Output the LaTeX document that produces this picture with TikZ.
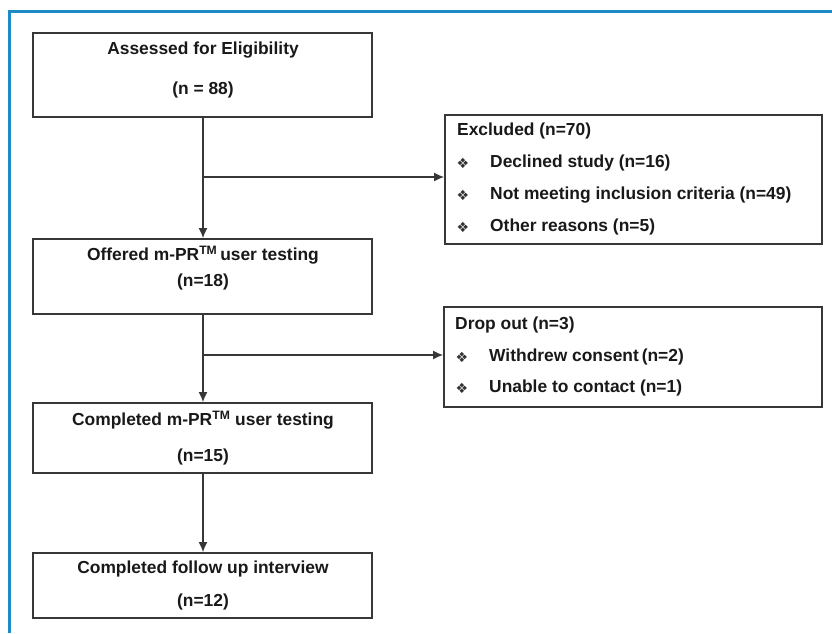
\documentclass[tikz,border=0pt]{standalone}
\usepackage{fontspec}
\setmainfont{Liberation Sans}
\newfontfamily\dejavu{DejaVu Sans}
\usetikzlibrary{arrows.meta}
\definecolor{frameblue}{RGB}{30,139,198}
\definecolor{linegray}{RGB}{55,55,55}
\begin{document}
\begin{tikzpicture}[x=1pt,y=-1pt,
  box/.style={draw=linegray,line width=1.8pt,minimum width=#1,inner sep=0pt,rectangle},
  boxtext/.style={font=\fontsize{17.4}{20}\selectfont\bfseries,inner sep=0pt,text=black!90},
  bul/.style={font=\dejavu\fontsize{14}{16}\selectfont,inner sep=0pt,text=black!80},
  conn/.style={draw=linegray,line width=1.4pt},
  arr/.style={conn,-{Latex[length=10pt,width=9pt]}}]
\useasboundingbox (0,0) rectangle (832,633);
\fill[white] (0,0) rectangle (832,633);
% frame
\draw[frameblue,line width=3pt] (9,633) -- (9,11) -- (832,11);
% main boxes
\node[box=339pt,minimum height=84pt] (b1) at (202.5,75) {};
\node[box=339pt,minimum height=75pt] (b2) at (202.5,276.5) {};
\node[box=339pt,minimum height=70pt] (b3) at (202.5,438) {};
\node[box=339pt,minimum height=65pt] (b4) at (202.5,585.5) {};
% side boxes
\node[box=377pt,minimum height=129pt] (ex) at (633.5,179.5) {};
\node[box=378pt,minimum height=100pt] (dr) at (633,357) {};
% texts main
\node[boxtext] (t1a) at (203,50) {Assessed for Eligibility};
\node[boxtext] (t1b) at (203,90) {(n = 88)};
\node[boxtext] (t2a) at (203,255) {Offered m-PR\textsuperscript{TM}\,user testing};
\node[boxtext] (t2b) at (203,282) {(n=18)};
\node[boxtext] (t3a) at (203,420) {Completed m-PR\textsuperscript{TM} user testing};
\node[boxtext] (t3b) at (203,457) {(n=15)};
\node[boxtext] (t4a) at (203,569) {Completed follow up interview};
\node[boxtext] (t4b) at (203,602) {(n=12)};
% excluded texts
\node[boxtext,anchor=west] (e0) at (457,131) {Excluded (n=70)};
\node[bul] (eb1) at (463,163) {❖};
\node[bul] (eb2) at (463,195) {❖};
\node[bul] (eb3) at (463,227) {❖};
\node[boxtext,anchor=west] (e1) at (490,163) {Declined study (n=16)};
\node[boxtext,anchor=west] (e2) at (490,195) {Not meeting inclusion criteria (n=49)};
\node[boxtext,anchor=west] (e3) at (490,227) {Other reasons (n=5)};
% drop out texts
\node[boxtext,anchor=west] (d0) at (455,325) {Drop out (n=3)};
\node[bul] (db1) at (462,357) {❖};
\node[bul] (db2) at (462,388) {❖};
\node[boxtext,anchor=west] (d1) at (489,357) {Withdrew consent\,(n=2)};
\node[boxtext,anchor=west] (d2) at (489,388) {Unable to contact (n=1)};
% connectors
\coordinate (j1) at (203,177);
\coordinate (j2) at (203,355);
\draw[arr] (b1.south -| j1) -- (b2.north -| j1);
\draw[arr] (j1) -- (ex.west |- j1);
\draw[arr] (b2.south -| j2) -- (b3.north -| j2);
\draw[arr] (j2) -- (dr.west |- j2);
\draw[arr] (b3.south -| j2) -- (b4.north -| j2);
\end{tikzpicture}
\end{document}
